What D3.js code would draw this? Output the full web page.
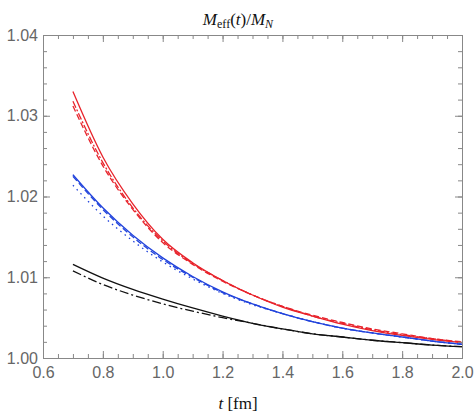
<!DOCTYPE html>
<html><head><meta charset="utf-8">
<script src="https://cdn.jsdelivr.net/npm/d3@7"></script>
<style>body{margin:0;background:#fff}svg{display:block}</style>
</head><body>
<script>
const tVals = [0.7,0.8,0.9,1.0,1.1,1.2,1.3,1.4,1.5,1.6,1.7,1.8,1.9,2.0];
const redSolid   = [1.0330,1.0249,1.0191,1.0147,1.0118,1.0096,1.0078,1.0063,1.0052,1.0042,1.0034,1.0028,1.0023,1.0019];
const redDashed  = [1.0312,1.0238,1.0184,1.0143,1.0116,1.0095,1.0078,1.0064,1.0053,1.0044,1.0036,1.0030,1.0024,1.0020];
const redDashDot = [1.0318,1.0242,1.0186,1.0145,1.0117,1.0096,1.0078,1.0064,1.0052,1.0043,1.0035,1.0029,1.0024,1.0019];
const blueSolid  = [1.0227,1.0186,1.0152,1.0124,1.0101,1.0082,1.0067,1.0055,1.0045,1.0037,1.0031,1.0026,1.0021,1.0017];
const blueDashed = [1.0225,1.0184,1.0150,1.0122,1.0100,1.0081,1.0067,1.0055,1.0045,1.0037,1.0031,1.0026,1.0021,1.0017];
const blueDotted = [1.0214,1.0176,1.0145,1.0119,1.0098,1.0080,1.0066,1.0055,1.0045,1.0037,1.0031,1.0026,1.0021,1.0017];
const blackSolid = [1.0116,1.0099,1.0085,1.0073,1.0062,1.0052,1.0043,1.0036,1.0030,1.0026,1.0022,1.0019,1.0016,1.0014];
const blackDashDot=[1.0108,1.0091,1.0078,1.0067,1.0058,1.0050,1.0043,1.0036,1.0030,1.0026,1.0022,1.0019,1.0016,1.0014];
const xTicks = [0.6,0.8,1.0,1.2,1.4,1.6,1.8,2.0];
const yTicks = [1.00,1.01,1.02,1.03,1.04];

const W=476,H=416;
const m={l:43,r:14,t:35,b:58};
const svg=d3.select("body").append("svg").attr("width",W).attr("height",H);
const x=d3.scaleLinear().domain([0.6,2.0]).range([m.l,W-m.r]);
const y=d3.scaleLinear().domain([1.00,1.04]).range([H-m.b,m.t]);

const RED="#e8232b",BLUE="#2143dc",BLACK="#111";
const series=[
  {v:redSolid,c:RED,d:null},
  {v:redDashed,c:RED,d:"6,3"},
  {v:redDashDot,c:RED,d:"7,2,2,2"},
  {v:blueSolid,c:BLUE,d:null},
  {v:blueDashed,c:BLUE,d:"6,3"},
  {v:blueDotted,c:BLUE,d:"1.5,4"},
  {v:blackSolid,c:BLACK,d:null},
  {v:blackDashDot,c:BLACK,d:"9,3,2,3"}
];
const line=d3.line().x((d,i)=>x(tVals[i])).y(d=>y(d)).curve(d3.curveMonotoneX);
const g=svg.append("g");
series.forEach(s=>{
  g.append("path").attr("d",line(s.v)).attr("fill","none").attr("stroke",s.c)
   .attr("stroke-width",1.3).attr("stroke-dasharray",s.d);
});

const gray="#888";
const xMinor=d3.range(0.6,2.0001,0.05);
const yMinor=d3.range(1.00,1.04001,0.002);
const axB=d3.axisBottom(x).tickValues(xMinor).tickSize(-4).tickFormat("");
const axT=d3.axisTop(x).tickValues(xMinor).tickSize(-4).tickFormat("");
const axL=d3.axisLeft(y).tickValues(yMinor).tickSize(-4).tickFormat("");
const axR=d3.axisRight(y).tickValues(yMinor).tickSize(-4).tickFormat("");
const maj=d3.axisBottom(x).tickValues(xTicks).tickSize(-7).tickPadding(9).tickFormat(d3.format(".1f"));
const majT=d3.axisTop(x).tickValues(xTicks).tickSize(-7).tickFormat("");
const majL=d3.axisLeft(y).tickValues(yTicks).tickSize(-7).tickPadding(5).tickFormat(d3.format(".2f"));
const majR=d3.axisRight(y).tickValues(yTicks).tickSize(-7).tickFormat("");
function style(sel){
  sel.selectAll("path.domain").attr("stroke",gray).attr("stroke-width",1);
  sel.selectAll(".tick line").attr("stroke",gray);
  sel.selectAll("text").attr("fill","#666").attr("font-family","'Liberation Sans',Arial,sans-serif").attr("font-size",16);
}
[ [axB,`translate(0,${H-m.b})`],[axT,`translate(0,${m.t})`],[axL,`translate(${m.l},0)`],[axR,`translate(${W-m.r},0)`],
  [maj,`translate(0,${H-m.b})`],[majT,`translate(0,${m.t})`],[majL,`translate(${m.l},0)`],[majR,`translate(${W-m.r},0)`]
].forEach(([a,tr])=>{ const s=svg.append("g").attr("transform",tr).call(a); style(s); });

const title=svg.append("text").attr("x",238).attr("y",25).attr("text-anchor","middle")
  .attr("font-family","'Liberation Serif','Times New Roman',serif").attr("font-size",17).attr("fill","#111");
title.append("tspan").attr("font-style","italic").text("M");
title.append("tspan").attr("font-size",12).attr("dy",3).text("eff");
title.append("tspan").attr("dy",-3).text("(");
title.append("tspan").attr("font-style","italic").text("t");
title.append("tspan").text(")/");
title.append("tspan").attr("font-style","italic").text("M");
title.append("tspan").attr("font-size",12).attr("font-style","italic").attr("dy",3).text("N");

const xl=svg.append("text").attr("x",238).attr("y",409).attr("text-anchor","middle")
  .attr("font-family","'Liberation Serif','Times New Roman',serif").attr("font-size",17).attr("fill","#111");
xl.append("tspan").attr("font-style","italic").text("t");
xl.append("tspan").text(" [fm]");
</script>
</body></html>
